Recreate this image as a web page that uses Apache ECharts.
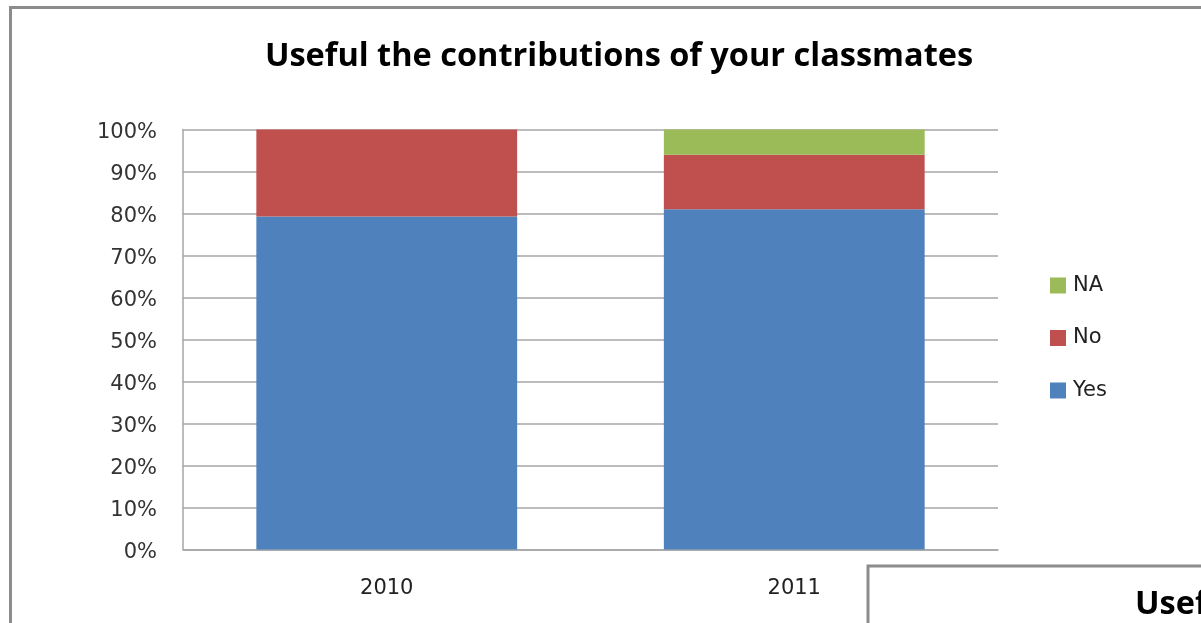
<!DOCTYPE html>
<html>
<head>
<meta charset="utf-8">
<script src="https://cdn.jsdelivr.net/npm/echarts@6/dist/echarts.min.js"></script>
<style>
html,body{margin:0;padding:0;background:#fff;}
#c{width:1201px;height:623px;}
</style>
</head>
<body>
<div id="c"></div>
<script>
const titleText = 'Useful the contributions of your classmates';
const categories = ['2010', '2011'];
const yesValues = [79.3, 81.0];
const noValues = [20.7, 13.0];
const naValues = [0, 6.0];
const legendOrder = ['NA', 'No', 'Yes'];

const chart = echarts.init(document.getElementById('c'), null, {renderer: 'canvas'});
const font = '"DejaVu Sans", sans-serif';
const titleFont = '"Open Sans", sans-serif';
chart.setOption({
  animation: false,
  backgroundColor: '#fff',
  title: {
    text: titleText,
    left: 614, top: 35, textAlign: 'center',
    textStyle: {fontFamily: titleFont, fontWeight: 'bold', fontSize: 32.5, color: '#000'}
  },
  legend: {
    data: legendOrder,
    orient: 'vertical',
    left: 1050, top: 275, padding: 0,
    itemWidth: 16, itemHeight: 16, itemGap: 31.5,
    icon: 'rect',
    textStyle: {fontFamily: font, fontSize: 21, color: '#222', padding: [0,0,0,2]}
  },
  grid: {left: 183, top: 129.5, width: 815, height: 420, containLabel: false},
  xAxis: {
    type: 'category', data: categories,
    axisLine: {show: true, lineStyle: {color: '#a6a6a6', width: 1.5}},
    axisTick: {show: false},
    axisLabel: {fontFamily: font, fontSize: 21, color: '#222', margin: 29}
  },
  yAxis: {
    type: 'value', min: 0, max: 100, interval: 10,
    axisLine: {show: true, lineStyle: {color: '#a6a6a6', width: 1.5}},
    axisTick: {show: false},
    splitLine: {lineStyle: {color: '#a6a6a6', width: 1.5}},
    axisLabel: {
      formatter: '{v|{value}%}', margin: 26,
      rich: {v: {fontFamily: font, fontSize: 21, color: '#333', padding: [6, 0, 0, 0]}}
    }
  },
  series: [
    {name: 'Yes', type: 'bar', stack: 's', data: yesValues, barWidth: '64%', itemStyle: {color: '#4f81bd'}},
    {name: 'No', type: 'bar', stack: 's', data: noValues, barWidth: '64%', itemStyle: {color: '#c0504d'}},
    {name: 'NA', type: 'bar', stack: 's', data: naValues, barWidth: '64%', itemStyle: {color: '#9bbb59'}}
  ],
  graphic: [
    {type: 'rect', shape: {x: 10.5, y: 7.5, width: 1300, height: 700}, style: {fill: null, stroke: '#8c8c8c', lineWidth: 3}, silent: true, z: 100},
    {type: 'rect', shape: {x: 868, y: 566, width: 500, height: 200}, style: {fill: '#fff', stroke: '#8c8c8c', lineWidth: 3}, silent: true, z: 100},
    {type: 'text', x: 1135, y: 588, style: {text: 'Useful', fontFamily: titleFont, fontWeight: 'bold', fontSize: 32.5, fill: '#000'}, silent: true, z: 101}
  ]
});
</script>
</body>
</html>
